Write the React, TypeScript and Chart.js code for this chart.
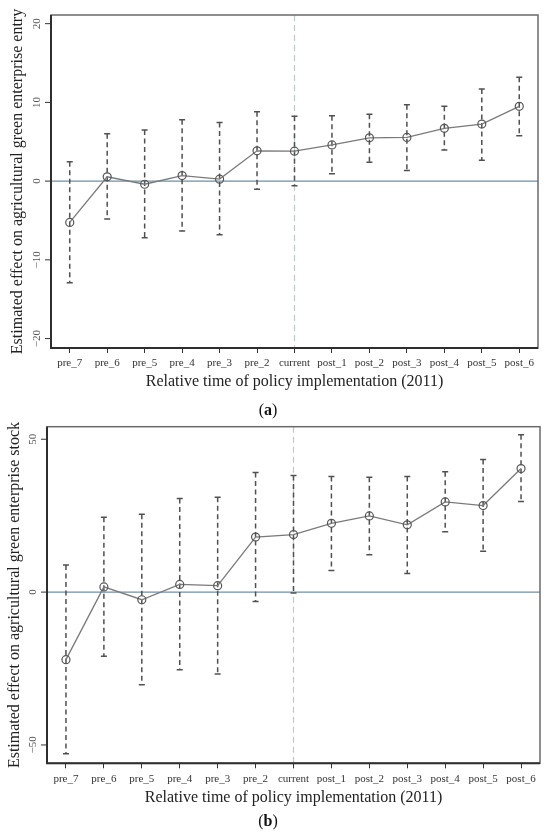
import { useEffect, useRef } from 'react';
import { Chart, registerables, type Plugin } from 'chart.js';

Chart.register(...registerables);

const SERIF = '"Liberation Serif", "Times New Roman", serif';

const PERIODS = [
  'pre_7', 'pre_6', 'pre_5', 'pre_4', 'pre_3', 'pre_2', 'current',
  'post_1', 'post_2', 'post_3', 'post_4', 'post_5', 'post_6',
];
const POLICY_PERIOD = 'current';

// (a) green enterprise entry
const entryEst = [-5.25, 0.55, -0.4, 0.7, 0.25, 3.85, 3.8, 4.6, 5.5, 5.55, 6.7, 7.25, 9.5];
const entryLo = [-12.9, -4.8, -7.2, -6.35, -6.8, -1.05, -0.6, 0.95, 2.4, 1.35, 3.95, 2.65, 5.75];
const entryHi = [2.45, 6.0, 6.5, 7.8, 7.45, 8.8, 8.25, 8.3, 8.5, 9.7, 9.5, 11.7, 13.2];

// (b) green enterprise stock
const stockEst = [-22.1, 1.7, -2.5, 2.5, 2.1, 18.0, 18.8, 22.5, 24.9, 22.0, 29.5, 28.3, 40.4];
const stockLo = [-52.9, -21.0, -30.3, -25.4, -26.8, -3.05, -0.3, 7.1, 12.2, 6.1, 19.7, 13.4, 29.6];
const stockHi = [8.9, 24.5, 25.5, 30.6, 31.0, 39.1, 38.1, 37.8, 37.6, 37.8, 39.4, 43.4, 51.5];

const X_TITLE = 'Relative time of policy implementation (2011)';

interface PanelProps {
  est: number[];
  lo: number[];
  hi: number[];
  yMin: number;
  yMax: number;
  step: number;
  yTitle: string;
  top: number;
  height: number;
  padTop: number;
  padRight: number;
  yAxisW: number;
  xAxisH: number;
  yTitlePad: number;
  xTitlePad: number;
  yTickX: number;
}

function Panel(p: PanelProps) {
  const canvasRef = useRef<HTMLCanvasElement>(null);

  useEffect(() => {
    if (!canvasRef.current) return;

    const studyPlugin: Plugin<'line'> = {
      id: 'eventStudy',
      beforeDatasetsDraw(chart) {
        const { ctx, chartArea: a } = chart;
        const x = chart.scales.x;
        const y = chart.scales.y;
        ctx.save();
        // zero line
        const y0 = y.getPixelForValue(0);
        ctx.strokeStyle = '#6f8fa6';
        ctx.lineWidth = 1.2;
        ctx.beginPath();
        ctx.moveTo(a.left, y0);
        ctx.lineTo(a.right, y0);
        ctx.stroke();
        // policy line
        const xc = x.getPixelForValue(PERIODS.indexOf(POLICY_PERIOD));
        ctx.strokeStyle = '#bcc8c8';
        ctx.lineWidth = 1.2;
        ctx.setLineDash([6, 4]);
        ctx.beginPath();
        ctx.moveTo(xc, a.top);
        ctx.lineTo(xc, a.bottom);
        ctx.stroke();
        // confidence intervals
        ctx.strokeStyle = '#505050';
        ctx.lineWidth = 1.5;
        p.lo.forEach((lo, i) => {
          const px = x.getPixelForValue(i);
          const yl = y.getPixelForValue(lo);
          const yh = y.getPixelForValue(p.hi[i]);
          ctx.setLineDash([5, 3.5]);
          ctx.beginPath();
          ctx.moveTo(px, yh);
          ctx.lineTo(px, yl);
          ctx.stroke();
          ctx.setLineDash([]);
          ctx.beginPath();
          ctx.moveTo(px - 3, yh);
          ctx.lineTo(px + 3, yh);
          ctx.moveTo(px - 3, yl);
          ctx.lineTo(px + 3, yl);
          ctx.stroke();
        });
        ctx.restore();
      },
      afterDraw(chart) {
        const { ctx, chartArea: a } = chart;
        const y = chart.scales.y;
        ctx.save();
        ctx.strokeStyle = '#6a6a6a';
        ctx.lineWidth = 1.5;
        ctx.strokeRect(a.left, a.top, a.right - a.left, a.bottom - a.top);
        ctx.strokeStyle = '#2e2e2e';
        ctx.lineWidth = 2;
        ctx.beginPath();
        ctx.moveTo(a.left, a.top);
        ctx.lineTo(a.left, a.bottom);
        ctx.lineTo(a.right, a.bottom);
        ctx.stroke();
        // y tick marks and rotated labels
        ctx.fillStyle = '#555';
        ctx.strokeStyle = '#333';
        ctx.lineWidth = 1;
        ctx.font = `11px ${SERIF}`;
        ctx.textAlign = 'center';
        ctx.textBaseline = 'middle';
        y.ticks.forEach((t) => {
          const py = y.getPixelForValue(t.value);
          ctx.beginPath();
          ctx.moveTo(a.left - 6, py);
          ctx.lineTo(a.left, py);
          ctx.stroke();
          const label = t.value < 0 ? '\u2212' + Math.abs(t.value) : String(t.value);
          ctx.save();
          ctx.translate(p.yTickX, py);
          ctx.rotate(-Math.PI / 2);
          ctx.fillText(label, 0, 0);
          ctx.restore();
        });
        ctx.restore();
      },
    };

    const chart = new Chart(canvasRef.current, {
      type: 'line',
      data: {
        labels: PERIODS,
        datasets: [
          {
            data: p.est,
            borderColor: '#7a7a7a',
            borderWidth: 1.3,
            tension: 0,
            pointRadius: 4,
            pointStyle: 'circle',
            pointBorderColor: '#555',
            pointBorderWidth: 1.2,
            pointBackgroundColor: 'rgba(0,0,0,0)',
          },
        ],
      },
      options: {
        animation: false,
        responsive: true,
        maintainAspectRatio: false,
        layout: { padding: { left: 0, right: p.padRight, top: p.padTop, bottom: 0 } },
        plugins: { legend: { display: false }, tooltip: { enabled: false } },
        scales: {
          x: {
            type: 'category',
            offset: true,
            border: { display: false },
            grid: { drawOnChartArea: false, tickLength: 5, color: '#333', lineWidth: 1 },
            ticks: { font: { family: SERIF, size: 11 }, color: '#333', padding: 4, maxRotation: 0, autoSkip: false },
            title: {
              display: true,
              text: X_TITLE,
              font: { family: SERIF, size: 16 },
              color: '#222',
              padding: { top: 0, bottom: p.xTitlePad },
            },
            afterFit: (s) => { s.height = p.xAxisH; },
          },
          y: {
            min: p.yMin,
            max: p.yMax,
            border: { display: false },
            grid: { display: false },
            ticks: { display: false, stepSize: p.step, includeBounds: false },
            title: {
              display: true,
              text: p.yTitle,
              font: { family: SERIF, size: 16 },
              color: '#222',
              padding: { top: p.yTitlePad, bottom: 0 },
            },
            afterFit: (s) => { s.width = p.yAxisW; },
          },
        },
      },
      plugins: [studyPlugin],
    });

    return () => { chart.destroy(); };
  }, [p]);

  return (
    <div style={{ position: 'absolute', left: 0, top: p.top, width: 550, height: p.height }}>
      <canvas ref={canvasRef} />
    </div>
  );
}

const captionStyle = {
  position: 'absolute' as const,
  left: 0,
  width: 536,
  textAlign: 'center' as const,
  font: `16px ${SERIF}`,
  lineHeight: '20px',
  color: '#111',
};

const panelA: PanelProps = {
  est: entryEst, lo: entryLo, hi: entryHi,
  yMin: -21.2, yMax: 21.1, step: 10,
  yTitle: 'Estimated effect on agricultural green enterprise entry',
  top: 0, height: 400, padTop: 15, padRight: 12,
  yAxisW: 51, xAxisH: 52, yTitlePad: 8.4, xTitlePad: 8.4, yTickX: 37,
};

const panelB: PanelProps = {
  est: stockEst, lo: stockLo, hi: stockHi,
  yMin: -56, yMax: 54.1, step: 50,
  yTitle: 'Estimated effect on agricultural green enterprise stock',
  top: 412, height: 400, padTop: 14.7, padRight: 10,
  yAxisW: 47, xAxisH: 48.7, yTitlePad: 5.4, xTitlePad: 4.9, yTickX: 33,
};

export default function App() {
  return (
    <div style={{ position: 'absolute', left: 0, top: 0, width: 550, height: 834, background: '#fff' }}>
      <Panel {...panelA} />
      <Panel {...panelB} />
      <div style={{ ...captionStyle, top: 400 }}>(<b>a</b>)</div>
      <div style={{ ...captionStyle, top: 811 }}>(<b>b</b>)</div>
    </div>
  );
}
